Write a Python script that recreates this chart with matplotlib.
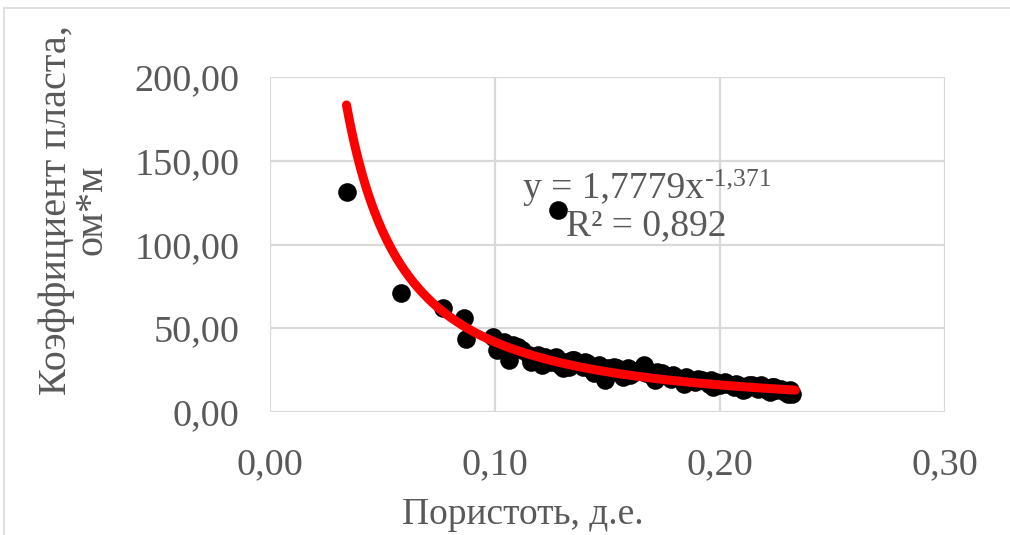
import numpy as np
import matplotlib.pyplot as plt
from matplotlib.lines import Line2D

plt.rcParams.update({
    "font.family": ["Liberation Serif", "DejaVu Serif"],
    "figure.facecolor": "white", "axes.facecolor": "white",
})
GRID, TXT, RED = "#d9d9d9", "#595959", "#ff0000"

# porosity (fraction) vs formation resistivity factor
porosity = [0.034, 0.058, 0.077, 0.086, 0.087, 0.128,
            0.099, 0.101, 0.104, 0.106, 0.108, 0.112, 0.115, 0.118, 0.121, 0.122,
            0.125, 0.127, 0.129, 0.131, 0.133, 0.135, 0.137, 0.139, 0.141, 0.143,
            0.145, 0.147, 0.149, 0.150, 0.152, 0.154, 0.156, 0.158, 0.160, 0.162,
            0.166, 0.167, 0.170, 0.172, 0.175, 0.178, 0.180, 0.183, 0.186, 0.189,
            0.192, 0.195, 0.198, 0.200, 0.203, 0.206, 0.208, 0.211, 0.214, 0.217,
            0.219, 0.221, 0.223, 0.225, 0.227, 0.229, 0.231, 0.232,
            0.110, 0.119, 0.126, 0.134, 0.140, 0.146, 0.153, 0.159, 0.164, 0.169,
            0.174, 0.179, 0.185, 0.190, 0.196, 0.202, 0.207, 0.213, 0.218, 0.224,
            0.116, 0.130, 0.144, 0.157, 0.171, 0.184, 0.197, 0.210, 0.222, 0.230]
resist = [131.5, 71.0, 62.0, 56.0, 43.5, 120.5,
          45, 37, 42, 31, 40, 37, 34, 31, 28, 33,
          30, 33, 28, 30, 27, 31, 29, 27, 29, 25,
          27, 24, 19, 26, 24, 26, 23, 25, 22, 24,
          28, 23, 21, 24, 22, 20, 21, 19, 20, 18,
          19, 17, 18, 16, 17, 15, 16, 14, 16, 14,
          15, 13, 15, 13, 14, 12, 13, 11,
          39, 34, 32, 31, 30, 28, 27, 26, 25, 24,
          23, 22, 21, 20, 19, 18, 17, 16, 16, 15,
          30, 26, 23, 21, 19, 17, 15, 13, 12, 11]

# power trendline shown on the chart
coef_a, coef_b = 1.7779, -1.371
trend_x = np.linspace(min(porosity), 0.2335, 200)
trend_y = coef_a * trend_x ** coef_b

fig = plt.figure(figsize=(10.1, 5.35), dpi=100)
ax = fig.add_axes([270 / 1010, 123 / 535, 675 / 1010, 335 / 535])

ax.scatter(porosity, resist, s=180, color="black", zorder=3, linewidths=0)
ax.plot(trend_x, trend_y, color=RED, lw=6.5, solid_capstyle="round", zorder=4)

ax.set_xlim(0, 0.30)
ax.set_ylim(0, 200)
ax.set_xticks([0, 0.1, 0.2, 0.3])
ax.set_yticks([0, 50, 100, 150, 200])
ax.set_xticklabels(["0,00", "0,10", "0,20", "0,30"])
ax.set_yticklabels(["0,00", "50,00", "100,00", "150,00", "200,00"])
ax.tick_params(length=0, labelsize=27.5, labelcolor=TXT)
ax.tick_params(axis="x", pad=26)
ax.tick_params(axis="y", pad=22)
ax.grid(True, color=GRID, lw=1.6, zorder=0)
ax.set_axisbelow(True)
for s in ax.spines.values():
    s.set_visible(False)

# trendline label: equation with superscript exponent, then R²
eq = ax.text(0.1124, 133, "y = 1,7779x", ha="left", va="center",
             fontsize=27, color=TXT, zorder=5)
ax.annotate("-1,371", xy=(1.0, 0.78), xycoords=eq, xytext=(1, 0),
            textcoords="offset points", ha="left", va="center",
            fontsize=18.5, color=TXT, zorder=5)
ax.text(0.1673, 111, "R² = 0,892", ha="center", va="center",
        fontsize=27, color=TXT, zorder=5)

fig.text(523 / 1010, 1 - 515 / 535, "Пористоть, д.е.", ha="center", va="center",
         fontsize=27, color=TXT)
fig.text(74 / 1010, 1 - 210 / 535, "Коэффициент пласта,\nом*м", ha="center", va="center",
         rotation=90, fontsize=29, color=TXT, multialignment="center", linespacing=0.95)

# outer chart frame
fig.add_artist(Line2D([4 / 1010, 4 / 1010], [0, 1 - 8 / 535], color=GRID, lw=1.2))
fig.add_artist(Line2D([4 / 1010, 1], [1 - 8 / 535, 1 - 8 / 535], color=GRID, lw=1.2))

fig.savefig("out.png", dpi=100)
